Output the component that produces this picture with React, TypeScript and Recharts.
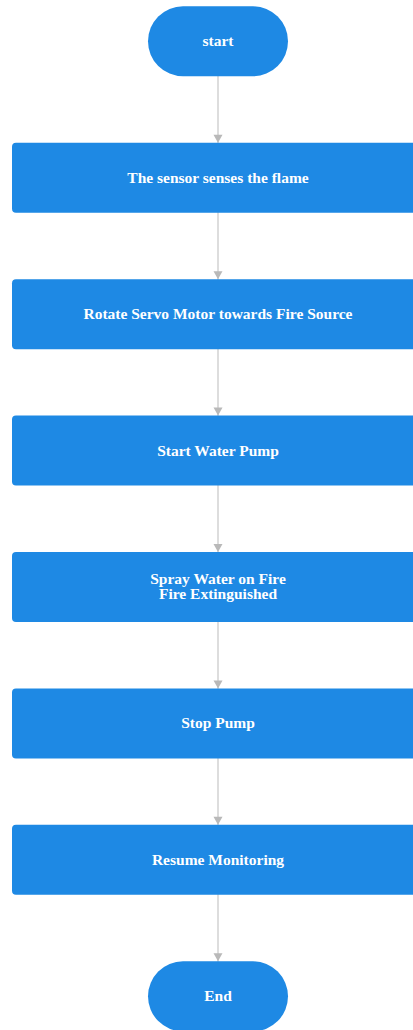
import { Scatter, ScatterChart, XAxis, YAxis } from "recharts";

// flowchart steps, top to bottom
const steps = [
  "start",
  "The sensor senses the flame",
  "Rotate Servo Motor towards Fire Source",
  "Start Water Pump",
  "Spray Water on Fire\nFire Extinguished",
  "Stop Pump",
  "Resume Monitoring",
  "End"
];
const stepKinds = ["terminal", "process", "process", "process", "process", "process", "process", "terminal"];
const stepOrder = [0, 1, 2, 3, 4, 5, 6, 7];
const lane = 0;

const nodes = steps.map((label, i) => ({
  x: lane,
  y: stepOrder[i],
  label,
  kind: stepKinds[i],
  first: i === 0
}));

const blue = "#1e89e4";
const edgeColor = "#d2d2d2";
const arrowColor = "#b9b9b9";

function NodeShape(props: any) {
  const { cx, cy, payload } = props;
  const h = 70;
  const terminal = payload.kind === "terminal";
  const w = terminal ? 140 : 412;
  const top = cy - h / 2;
  const lines: string[] = payload.label.split("\n");
  const lineH = 15;
  const startY = cy - ((lines.length - 1) * lineH) / 2 + 5;
  return (
    <g>
      {!payload.first && (
        <polygon
          points={`${cx - 4.5},${top - 8} ${cx + 4.5},${top - 8} ${cx},${top}`}
          fill={arrowColor}
        />
      )}
      <rect
        x={cx - w / 2}
        y={top}
        width={w}
        height={h}
        rx={terminal ? 35 : 4}
        ry={terminal ? 35 : 4}
        fill={blue}
      />
      <text
        x={cx}
        textAnchor="middle"
        fill="#ffffff"
        fontFamily="'Liberation Serif', serif"
        fontWeight="bold"
        fontSize={15.5}
      >
        {lines.map((ln, k) => (
          <tspan key={k} x={cx} y={startY + k * lineH}>
            {ln}
          </tspan>
        ))}
      </text>
    </g>
  );
}

export default function App() {
  return (
    <div style={{ position: "absolute", left: 0, top: 0, width: 413, height: 1030, background: "#fff" }}>
      <ScatterChart width={413} height={1030} margin={{ top: 0, right: 0, bottom: 0, left: 0 }}>
        <XAxis type="number" dataKey="x" domain={[-218, 195]} hide />
        <YAxis type="number" dataKey="y" domain={[-0.3024, 7.247]} reversed hide />
        <Scatter
          data={nodes}
          isAnimationActive={false}
          line={{ stroke: edgeColor, strokeWidth: 1.5 }}
          shape={NodeShape}
        />
      </ScatterChart>
    </div>
  );
}
